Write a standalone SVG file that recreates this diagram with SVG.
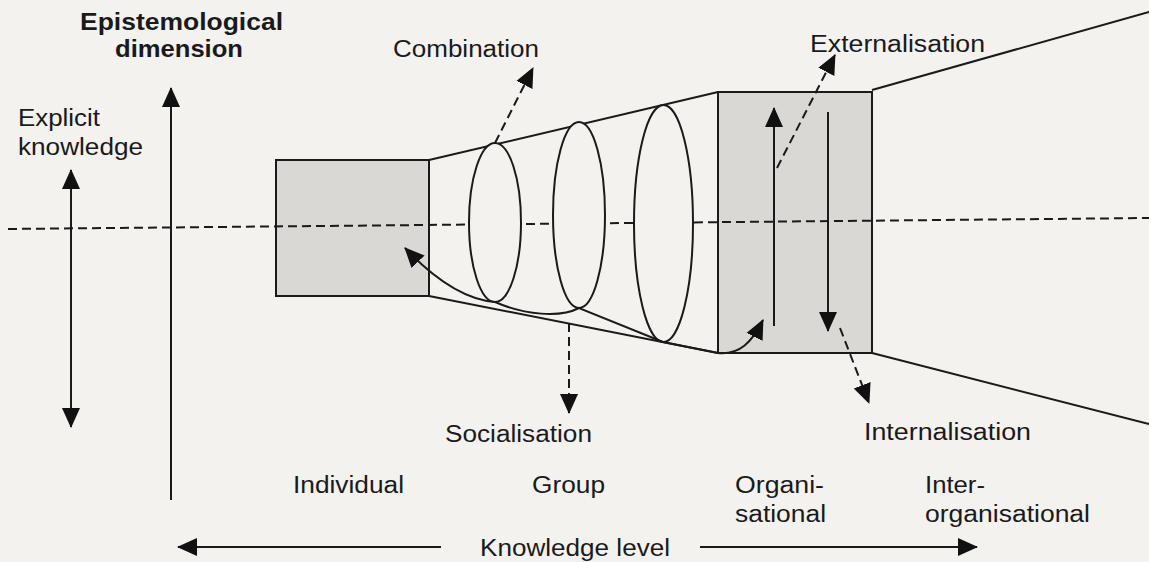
<svg xmlns="http://www.w3.org/2000/svg" width="1149" height="562" viewBox="0 0 1149 562">
<style>
text{font-family:"Liberation Sans",Arial,sans-serif;font-size:23px;fill:#1a1a1a}
.b{font-weight:bold;font-size:24px}
.ln{stroke:#1a1a1a;stroke-width:2;fill:none}
.ds{stroke:#1a1a1a;stroke-width:2;fill:none;stroke-dasharray:9 5}
.box{fill:#d9d8d5;stroke:#1a1a1a;stroke-width:2}
.el{fill:#f3f2ef;stroke:#1a1a1a;stroke-width:2}
</style>
<defs>
<marker id="ah" viewBox="0 0 20 20" refX="19" refY="10" markerWidth="20" markerHeight="20" markerUnits="userSpaceOnUse" orient="auto-start-reverse">
<path d="M0,1 L20,10 L0,19 z" fill="#111"/>
</marker>
</defs>
<rect width="1149" height="562" fill="#f3f2ef"/>
<g id="cone">
<line class="ln" x1="429" y1="160" x2="718" y2="92"/>
<line class="ln" x1="429" y1="296" x2="718" y2="353"/>
<line class="ln" x1="872" y1="90" x2="1149" y2="12"/>
<line class="ln" x1="872" y1="353" x2="1149" y2="424"/>
</g>
<g id="individual-box"><rect class="box" x="276" y="160" width="153" height="136"/></g>
<g id="organisational-box"><rect class="box" x="718" y="92" width="154" height="261"/></g>
<g id="axis-line">
<line class="ds" x1="8" y1="229" x2="1149" y2="218"/>
</g>
<g id="ellipses">
<ellipse class="el" cx="495" cy="222.5" rx="26" ry="79.5"/>
<ellipse class="el" cx="579" cy="215" rx="26" ry="93"/>
<ellipse class="el" cx="663.5" cy="223.5" rx="29.5" ry="118.5"/>
</g>
<g id="connectors">
<line class="ln" x1="171" y1="500" x2="171" y2="88" marker-end="url(#ah)"/>
<line class="ln" x1="71" y1="170" x2="71" y2="427" marker-start="url(#ah)" marker-end="url(#ah)"/>
<path class="ln" d="M495,302 C470,300 440,285 405,248" marker-end="url(#ah)"/>
<path class="ln" d="M495,302 C525,315 560,318 579,308 L663,342 L718,353"/>
<path class="ln" d="M718,353 C740,355 752,342 763,320" marker-end="url(#ah)"/>
<line class="ln" x1="774" y1="326" x2="774" y2="108" marker-end="url(#ah)"/>
<line class="ln" x1="828" y1="112" x2="828" y2="331" marker-end="url(#ah)"/>
<line class="ds" x1="495" y1="143" x2="533" y2="68" marker-end="url(#ah)"/>
<line class="ds" x1="569" y1="323" x2="569" y2="413" marker-end="url(#ah)"/>
<line class="ds" x1="777" y1="168" x2="835" y2="55" marker-end="url(#ah)"/>
<line class="ds" x1="840" y1="328" x2="869" y2="403" marker-end="url(#ah)"/>
<line class="ln" x1="441" y1="547" x2="178" y2="547" marker-end="url(#ah)"/>
<line class="ln" x1="700" y1="547" x2="977" y2="547" marker-end="url(#ah)"/>
</g>
<g id="labels">
<text class="b" x="80" y="30" textLength="203" lengthAdjust="spacingAndGlyphs">Epistemological</text>
<text class="b" x="115" y="57" textLength="128" lengthAdjust="spacingAndGlyphs">dimension</text>
<text x="18" y="126" textLength="82" lengthAdjust="spacingAndGlyphs">Explicit</text>
<text x="18" y="155" textLength="125" lengthAdjust="spacingAndGlyphs">knowledge</text>
<text x="393" y="57" textLength="146" lengthAdjust="spacingAndGlyphs">Combination</text>
<text x="810" y="52" textLength="175" lengthAdjust="spacingAndGlyphs">Externalisation</text>
<text x="445" y="442" textLength="147" lengthAdjust="spacingAndGlyphs">Socialisation</text>
<text x="864" y="440" textLength="167" lengthAdjust="spacingAndGlyphs">Internalisation</text>
<text x="293" y="493" textLength="111" lengthAdjust="spacingAndGlyphs">Individual</text>
<text x="532" y="493" textLength="73" lengthAdjust="spacingAndGlyphs">Group</text>
<text x="735" y="493" textLength="89" lengthAdjust="spacingAndGlyphs">Organi-</text>
<text x="735" y="522" textLength="91" lengthAdjust="spacingAndGlyphs">sational</text>
<text x="925" y="493" textLength="60" lengthAdjust="spacingAndGlyphs">Inter-</text>
<text x="925" y="522" textLength="165" lengthAdjust="spacingAndGlyphs">organisational</text>
<text x="480" y="556" textLength="190" lengthAdjust="spacingAndGlyphs">Knowledge level</text>
</g>
</svg>
